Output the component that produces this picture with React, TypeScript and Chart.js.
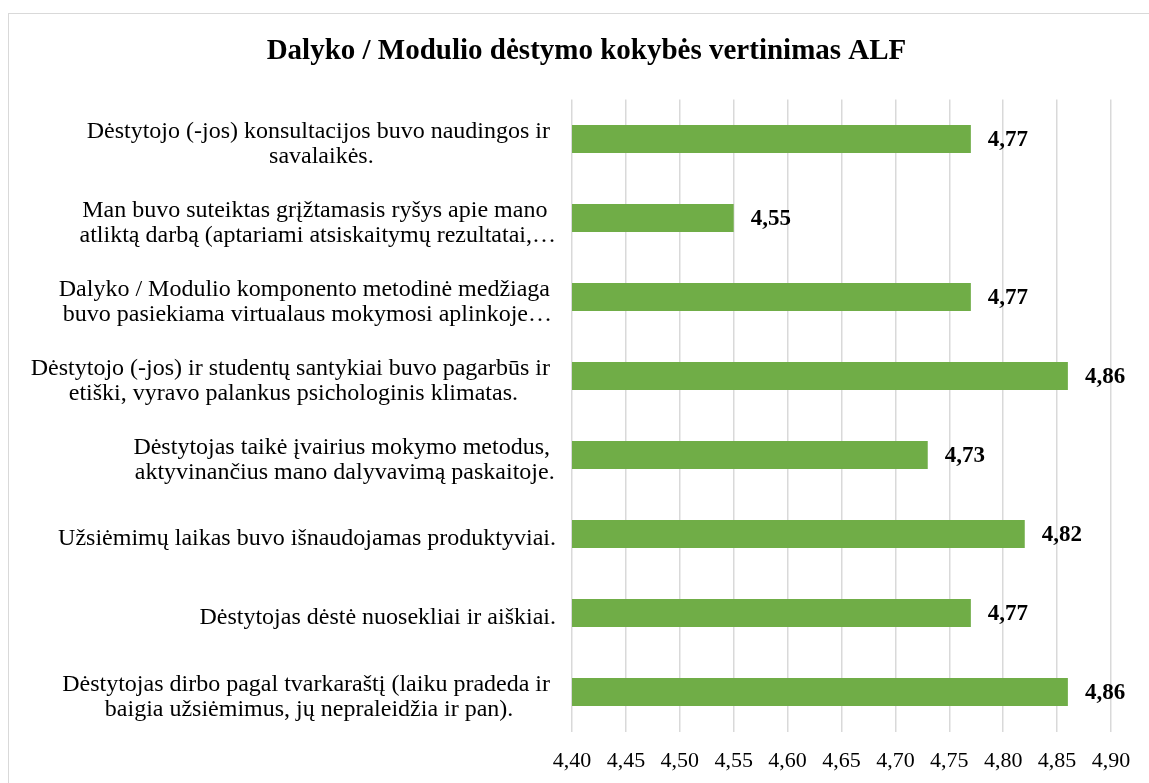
import React, { useEffect, useRef } from "react";
import { Chart, registerables } from "chart.js";

Chart.register(...registerables);

const chartTitle = "Dalyko / Modulio dėstymo kokybės vertinimas ALF";

const categories: string[][] = [
  ["Dėstytojo (-jos) konsultacijos buvo naudingos ir ", "savalaikės."],
  ["Man buvo suteiktas grįžtamasis ryšys apie mano ", "atliktą darbą (aptariami atsiskaitymų rezultatai,…"],
  ["Dalyko / Modulio komponento metodinė medžiaga ", "buvo pasiekiama virtualaus mokymosi aplinkoje…"],
  ["Dėstytojo (-jos) ir studentų santykiai buvo pagarbūs ir ", "etiški, vyravo palankus psichologinis klimatas."],
  ["Dėstytojas taikė įvairius mokymo metodus, ", "aktyvinančius mano dalyvavimą paskaitoje."],
  ["Užsiėmimų laikas buvo išnaudojamas produktyviai."],
  ["Dėstytojas dėstė nuosekliai ir aiškiai."],
  ["Dėstytojas dirbo pagal tvarkaraštį (laiku pradeda ir ", "baigia užsiėmimus, jų nepraleidžia ir pan)."],
];

const values: number[] = [4.77, 4.55, 4.77, 4.86, 4.73, 4.82, 4.77, 4.86];

const axisMin = 4.4;
const axisMax = 4.9;
const axisStep = 0.05;

const fmt = (v: number) => v.toFixed(2).replace(".", ",");

const FONT = "'Liberation Serif', 'Times New Roman', serif";

export default function App() {
  const ref = useRef<HTMLCanvasElement | null>(null);

  useEffect(() => {
    if (!ref.current) return;

    const borderPlugin = {
      id: "frameBorder",
      beforeDraw(chart: any) {
        const ctx = chart.ctx;
        ctx.save();
        ctx.fillStyle = "#ffffff";
        ctx.fillRect(0, 0, chart.width, chart.height);
        ctx.strokeStyle = "#d9d9d9";
        ctx.lineWidth = 1;
        ctx.strokeRect(8.5, 13.5, 1400, 1000);
        ctx.restore();
      },
    };

    const textPlugin = {
      id: "textLayer",
      afterDraw(chart: any) {
        const ctx = chart.ctx;
        ctx.save();
        ctx.fillStyle = "#000000";
        ctx.font = `bold 29px ${FONT}`;
        ctx.textAlign = "center";
        ctx.textBaseline = "middle";
        ctx.fillText(chartTitle, 586.5, 52);
        const yScale = chart.scales.y;
        const rightEdge = chart.chartArea.left - 16;
        const lineGap = 25.5;
        ctx.font = `24px ${FONT}`;
        ctx.textBaseline = "middle";
        ctx.textAlign = "left";
        categories.forEach((lines, i) => {
          const cy = yScale.getPixelForValue(i) + 5;
          const widths = lines.map((l) => ctx.measureText(l).width);
          const maxW = Math.max(...widths);
          const cx = rightEdge - maxW / 2;
          const startY = cy - ((lines.length - 1) * lineGap) / 2;
          lines.forEach((l, j) => ctx.fillText(l, cx - widths[j] / 2, startY + j * lineGap));
        });
        ctx.restore();
      },
    };

    const labelPlugin = {
      id: "valueLabels",
      afterDatasetsDraw(chart: any) {
        const ctx = chart.ctx;
        const meta = chart.getDatasetMeta(0);
        ctx.save();
        ctx.font = `bold 23px ${FONT}`;
        ctx.fillStyle = "#000000";
        ctx.textAlign = "left";
        ctx.textBaseline = "middle";
        meta.data.forEach((el: any, i: number) => {
          ctx.fillText(fmt(values[i]), el.x + 17, el.y + 1);
        });
        ctx.restore();
      },
    };

    const chart = new Chart(ref.current, {
      type: "bar",
      data: {
        labels: categories,
        datasets: [
          {
            data: values,
            backgroundColor: "#70AD47",
            borderWidth: 0,
            barPercentage: 0.355,
            categoryPercentage: 1,
          },
        ],
      },
      options: {
        indexAxis: "y",
        responsive: false,
        animation: false,
        devicePixelRatio: 1,
        layout: { padding: { left: 0, right: 38, top: 99.5, bottom: 0 } },
        plugins: {
          legend: { display: false },
          tooltip: { enabled: false },
          title: { display: false },
        },
        scales: {
          x: {
            min: axisMin,
            max: axisMax,
            border: { display: false },
            grid: { color: "#d9d9d9", lineWidth: 1.5, drawTicks: false },
            ticks: {
              stepSize: axisStep,
              color: "#000000",
              padding: 17,
              font: { family: FONT, size: 22 },
              callback: (v: any) => fmt(Number(v)),
            },
            afterFit(scale: any) {
              scale.height = 783 - 731.5;
            },
          },
          y: {
            border: { display: false },
            grid: { display: false, drawTicks: false },
            ticks: { display: false },
            afterFit(scale: any) {
              scale.width = 572;
            },
          },
        },
      },
      plugins: [borderPlugin, labelPlugin, textPlugin],
    } as any);

    return () => chart.destroy();
  }, []);

  return (
    <canvas
      ref={ref}
      width={1149}
      height={783}
      style={{ position: "fixed", left: 0, top: 0, width: 1149, height: 783, display: "block" }}
    />
  );
}
